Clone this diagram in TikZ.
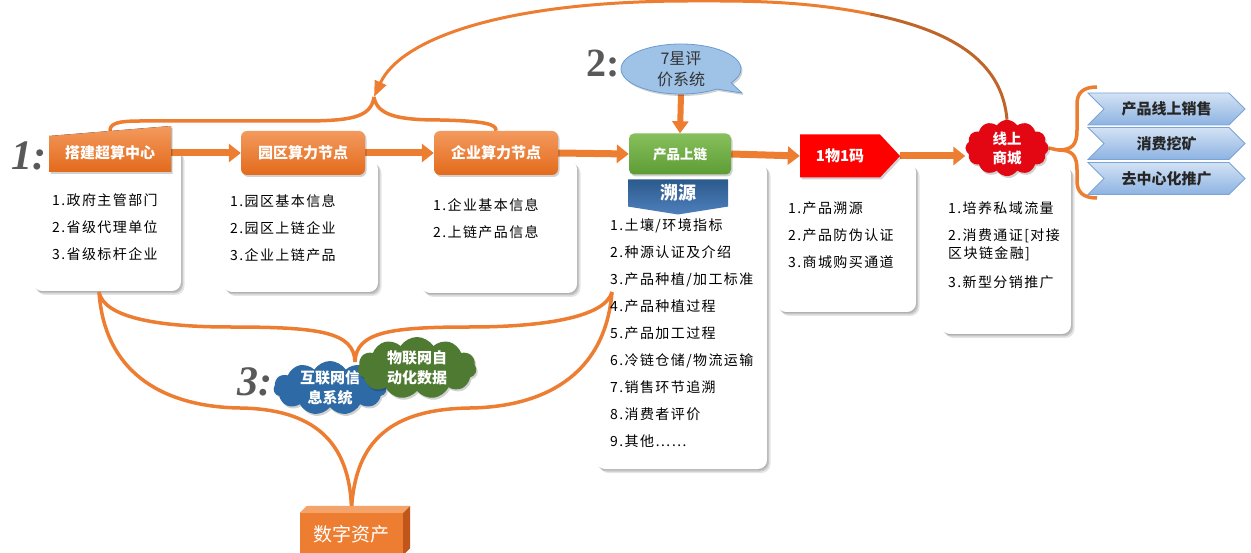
\documentclass[tikz,border=0pt]{standalone}
\usepackage{fontspec}
\setmainfont{Liberation Serif}
\newfontfamily\cjk{Noto Sans CJK SC}
\newfontfamily\cjklist[LetterSpace=10]{Noto Sans CJK SC}
\usetikzlibrary{shapes.symbols,shapes.callouts,arrows.meta,shadows}
\pgfdeclarelayer{cards}
\pgfdeclarelayer{lines}
\pgfsetlayers{cards,lines,main}
\definecolor{org}{HTML}{ED7D31}
\definecolor{orgtop}{HTML}{F39A5E}
\definecolor{orgbot}{HTML}{E36A1B}
\definecolor{grtop}{HTML}{86C05C}
\definecolor{grbot}{HTML}{5E9C35}
\definecolor{bltop}{HTML}{2B5A8C}
\definecolor{blbot}{HTML}{4E80BC}
\definecolor{chtop}{HTML}{D3E2F4}
\definecolor{chbot}{HTML}{8DB3E2}
\definecolor{chline}{HTML}{7BA4D6}
\definecolor{bubfill}{HTML}{9FC3E7}
\definecolor{bubline}{HTML}{6A9BD1}
\definecolor{numgray}{HTML}{595959}
\definecolor{cloudblue}{HTML}{2E6BA6}
\definecolor{cloudgreen}{HTML}{4F7A32}
\definecolor{cloudred}{HTML}{E30613}
\definecolor{arcbrown}{HTML}{C0652A}
\definecolor{boxtop}{HTML}{F4A36A}
\definecolor{boxside}{HTML}{C0561A}
\tikzset{
 card/.style={rounded corners=9pt, fill=white, inner sep=0pt,
   preaction={fill=black, opacity=0.10, transform canvas={shift={(3.5pt,-4pt)}}},
   preaction={fill=black, opacity=0.14, transform canvas={shift={(2pt,-2.5pt)}}},
   preaction={fill=black, opacity=0.10, transform canvas={shift={(0.8pt,-1.2pt)}}}},
 softshadow/.style={preaction={fill=black, opacity=0.18, transform canvas={shift={(1.5pt,-2pt)}}}},
 hdr/.style={rounded corners=6pt, top color=orgtop, bottom color=orgbot, text=white,
   font=\cjk\bfseries\fontsize{15}{18}\selectfont, minimum height=44pt, minimum width=124pt,
   inner sep=0pt, softshadow},
 listtxt/.style={anchor=north west, align=left, inner sep=0pt, text=black,
   font=\cjklist\fontsize{14}{27}\selectfont},
 flowarrow/.style={draw=org, line width=7pt, -{Triangle[width=18pt,length=12pt]}},
 curveline/.style={draw=org, line width=3.5pt},
 numlabel/.style={font=\fontsize{42}{42}\selectfont\bfseries\itshape, text=numgray, inner sep=0pt},
 chev/.style={signal, signal to=east, signal from=west, signal pointer angle=90,
   minimum width=157pt, minimum height=32pt, inner sep=0pt, top color=chtop, bottom color=chbot,
   draw=chline, line width=0.8pt, font=\cjk\bfseries\fontsize{15}{18}\selectfont, text=black!85},
 cloudnode/.style={cloud, cloud puffs=11, cloud puff arc=115, aspect=1.9, inner sep=-4pt,
   text=white, align=center, font=\cjk\bfseries\fontsize{15}{20}\selectfont, softshadow},
}
\begin{document}
\begin{tikzpicture}[x=1pt,y=-1pt]
\useasboundingbox (0,0) rectangle (1251,553);

% ---------- cards ----------
\begin{pgfonlayer}{cards}
\node[card, minimum width=148pt, minimum height=143pt] (c1) at (107,219.5) {};
\node[card, minimum width=155pt, minimum height=132pt] (c2) at (300.5,226) {};
\node[card, minimum width=156pt, minimum height=133pt] (c3) at (499,226.5) {};
\node[card, minimum width=171pt, minimum height=306pt] (c4) at (681.5,316) {};
\node[card, minimum width=139pt, minimum height=149pt] (c5) at (846.5,237.5) {};
\node[card, minimum width=130pt, minimum height=169pt] (c6) at (1006,249.5) {};
\end{pgfonlayer}

% ---------- header boxes ----------
\fill[top color=orgtop, bottom color=orgbot, softshadow] (49,136) -- (171,126) -- (171,172) -- (49,172) -- cycle;
\node[text=white, font=\cjk\bfseries\fontsize{15}{18}\selectfont, minimum width=122pt, minimum height=36pt, inner sep=0pt] (h1) at (110,153) {搭建超算中心};
\node[hdr] (h2) at (303,153) {园区算力节点};
\node[hdr] (h3) at (496,153) {企业算力节点};
\node[rounded corners=5pt, top color=grtop, bottom color=grbot, text=white, softshadow,
  font=\cjk\bfseries\fontsize{13.5}{16}\selectfont, minimum width=102pt, minimum height=41pt, inner sep=0pt] (h4) at (680,154) {产品上链};
\node[signal, signal to=south, signal pointer angle=162, top color=bltop, bottom color=blbot, text=white,
  font=\cjk\bfseries\fontsize{18}{18}\selectfont, minimum width=100pt, minimum height=30pt, inner sep=0pt] (sy) at (678,193) {溯源};
\node[signal, signal to=east, signal pointer angle=94, fill=red, text=white, softshadow,
  font=\cjk\bfseries\fontsize{15}{18}\selectfont, minimum width=100pt, minimum height=43pt, inner sep=0pt] (r1) at (840,156) {1物1码};
\node[cloud, cloud puffs=12, cloud puff arc=115, aspect=1.7, inner sep=0pt, text=white, align=center, softshadow,
  fill=cloudred, minimum width=82pt, minimum height=47pt, font=\cjk\bfseries\fontsize{14.5}{19}\selectfont] (ms) at (1007,148) {线上\\商城};

% ---------- bubble ----------
\node[ellipse callout, callout absolute pointer={(742,93)}, callout pointer arc=20, fill=bubfill, draw=bubline, line width=0.8pt,
  minimum width=120pt, minimum height=50pt, inner sep=0pt, align=center, text=black!80,
  font=\cjk\fontsize{16}{21}\selectfont, softshadow] (bub) at (681,69) {7星评\\价系统};

% ---------- chevrons ----------
\node[chev] (ch1) at (1166.5,109) {产品线上销售};
\node[chev] (ch2) at (1166.5,143.5) {消费挖矿};
\node[chev] (ch3) at (1166.5,178.5) {去中心化推广};

% ---------- digital asset box ----------
\node[fill=org, minimum width=103pt, minimum height=42pt, text=white, inner sep=0pt,
  font=\cjk\fontsize{19}{19}\selectfont] (dz) at (351.5,534) {数字资产};
\fill[boxtop] (dz.north west) -- ++(7,-7) -- ([shift={(7,-7)}]dz.north east) -- (dz.north east) -- cycle;
\fill[boxside] (dz.north east) -- ++(7,-7) -- ([shift={(7,-7)}]dz.south east) -- (dz.south east) -- cycle;

% ---------- bottom clouds ----------
\node[cloudnode, fill=cloudblue, minimum width=113pt, minimum height=54pt] (cb) at (330,388) {互联网信\\息系统};
\node[cloudnode, fill=cloudgreen, minimum width=119pt, minimum height=62pt] (cg) at (417,368) {物联网自\\动化数据};

% ---------- number labels ----------
\node[numlabel] (n1) at (29,156) {1:};
\node[font=\fontsize{40}{40}\selectfont\bfseries, text=numgray, inner sep=0pt] (n2) at (603,64) {2:};
\node[numlabel] (n3) at (255,382) {3:};

% ---------- list texts ----------
\node[listtxt] (t1) at (52,193) {1.政府主管部门\\2.省级代理单位\\3.省级标杆企业};
\node[listtxt] (t2) at (230,194) {1.园区基本信息\\2.园区上链企业\\3.企业上链产品};
\node[listtxt] (t3) at (433,198) {1.企业基本信息\\2.上链产品信息};
\node[listtxt] (t4) at (610,218) {1.土壤/环境指标\\2.种源认证及介绍\\3.产品种植/加工标准\\4.产品种植过程\\5.产品加工过程\\6.冷链仓储/物流运输\\7.销售环节追溯\\8.消费者评价\\9.其他……};
\node[listtxt] (t5) at (788,202) {1.产品溯源\\2.产品防伪认证\\3.商城购买通道};
\node[listtxt] (t6) at (948,201) {1.培养私域流量\\2.消费通证[对接\\[-9pt]区块链金融]\\[2pt]3.新型分销推广};

% ---------- connectors ----------
\coordinate (ja) at (374,97);
\coordinate (la) at (99,292);
\coordinate (ra) at (612,292);
\coordinate (jb) at (355,362);
\coordinate (bm) at (1058,150);
\coordinate (bt) at (1097,87);
\coordinate (bb) at (1097,198);
\coordinate (arcmid) at (870,14);
\begin{pgfonlayer}{lines}
\draw[flowarrow] (h1.east) -- (h2.west);
\draw[flowarrow] (h2.east) -- (h3.west);
\draw[flowarrow] (h3.east) -- (h4.west);
\draw[flowarrow] (h4.east) -- (r1.west);
\draw[flowarrow] (r1.east) -- (r1.east -| ms.west);
\draw[draw=org, line width=6pt, -{Triangle[width=16pt,length=12pt]}] (bub.south) -- (h4.north);
% top arc
\draw[draw=arcbrown, line width=3pt] (ms.north) .. controls (1002,60) and (950,30) .. (arcmid);
\draw[draw=org, line width=3pt, -{Triangle[width=12pt,length=16pt]}] (arcmid) .. controls (800,0) and (740,1) .. (690,1) .. controls (500,1) and (400,40) .. (ja);
\draw[curveline] (ja) .. controls (371,118) and (350,121) .. (300,121) -- (140,121) .. controls (116,121) and (110,124) .. (110,131);
\draw[curveline] (ja) .. controls (377,116) and (400,120) .. (440,120) .. controls (484,121) and (497,124) .. (h3.north);
% bottom curves
\draw[curveline] (la) .. controls (104,318) and (160,327) .. (230,327) .. controls (320,327) and (354,332) .. (jb);
\draw[curveline] (ra) .. controls (605,318) and (540,327) .. (470,327) .. controls (390,327) and (356,332) .. (jb);
\draw[curveline] (la) .. controls (105,378) and (170,407) .. (240,408) .. controls (312,409) and (350,440) .. ([yshift=3pt]dz.north);
\draw[curveline] (ra) .. controls (605,378) and (540,407) .. (470,408) .. controls (392,409) and (355,440) .. ([yshift=3pt]dz.north);
% right brace
\draw[curveline] (ms.east) -- (bm);
\draw[curveline] (bm) .. controls (1072,150) and (1077,145) .. (1077,130) -- (1077,104) .. controls (1077,93) and (1083,87) .. (bt);
\draw[curveline] (bm) .. controls (1072,150) and (1077,155) .. (1077,170) -- (1077,181) .. controls (1077,192) and (1083,198) .. (bb);
\end{pgfonlayer}
\end{tikzpicture}
\end{document}
